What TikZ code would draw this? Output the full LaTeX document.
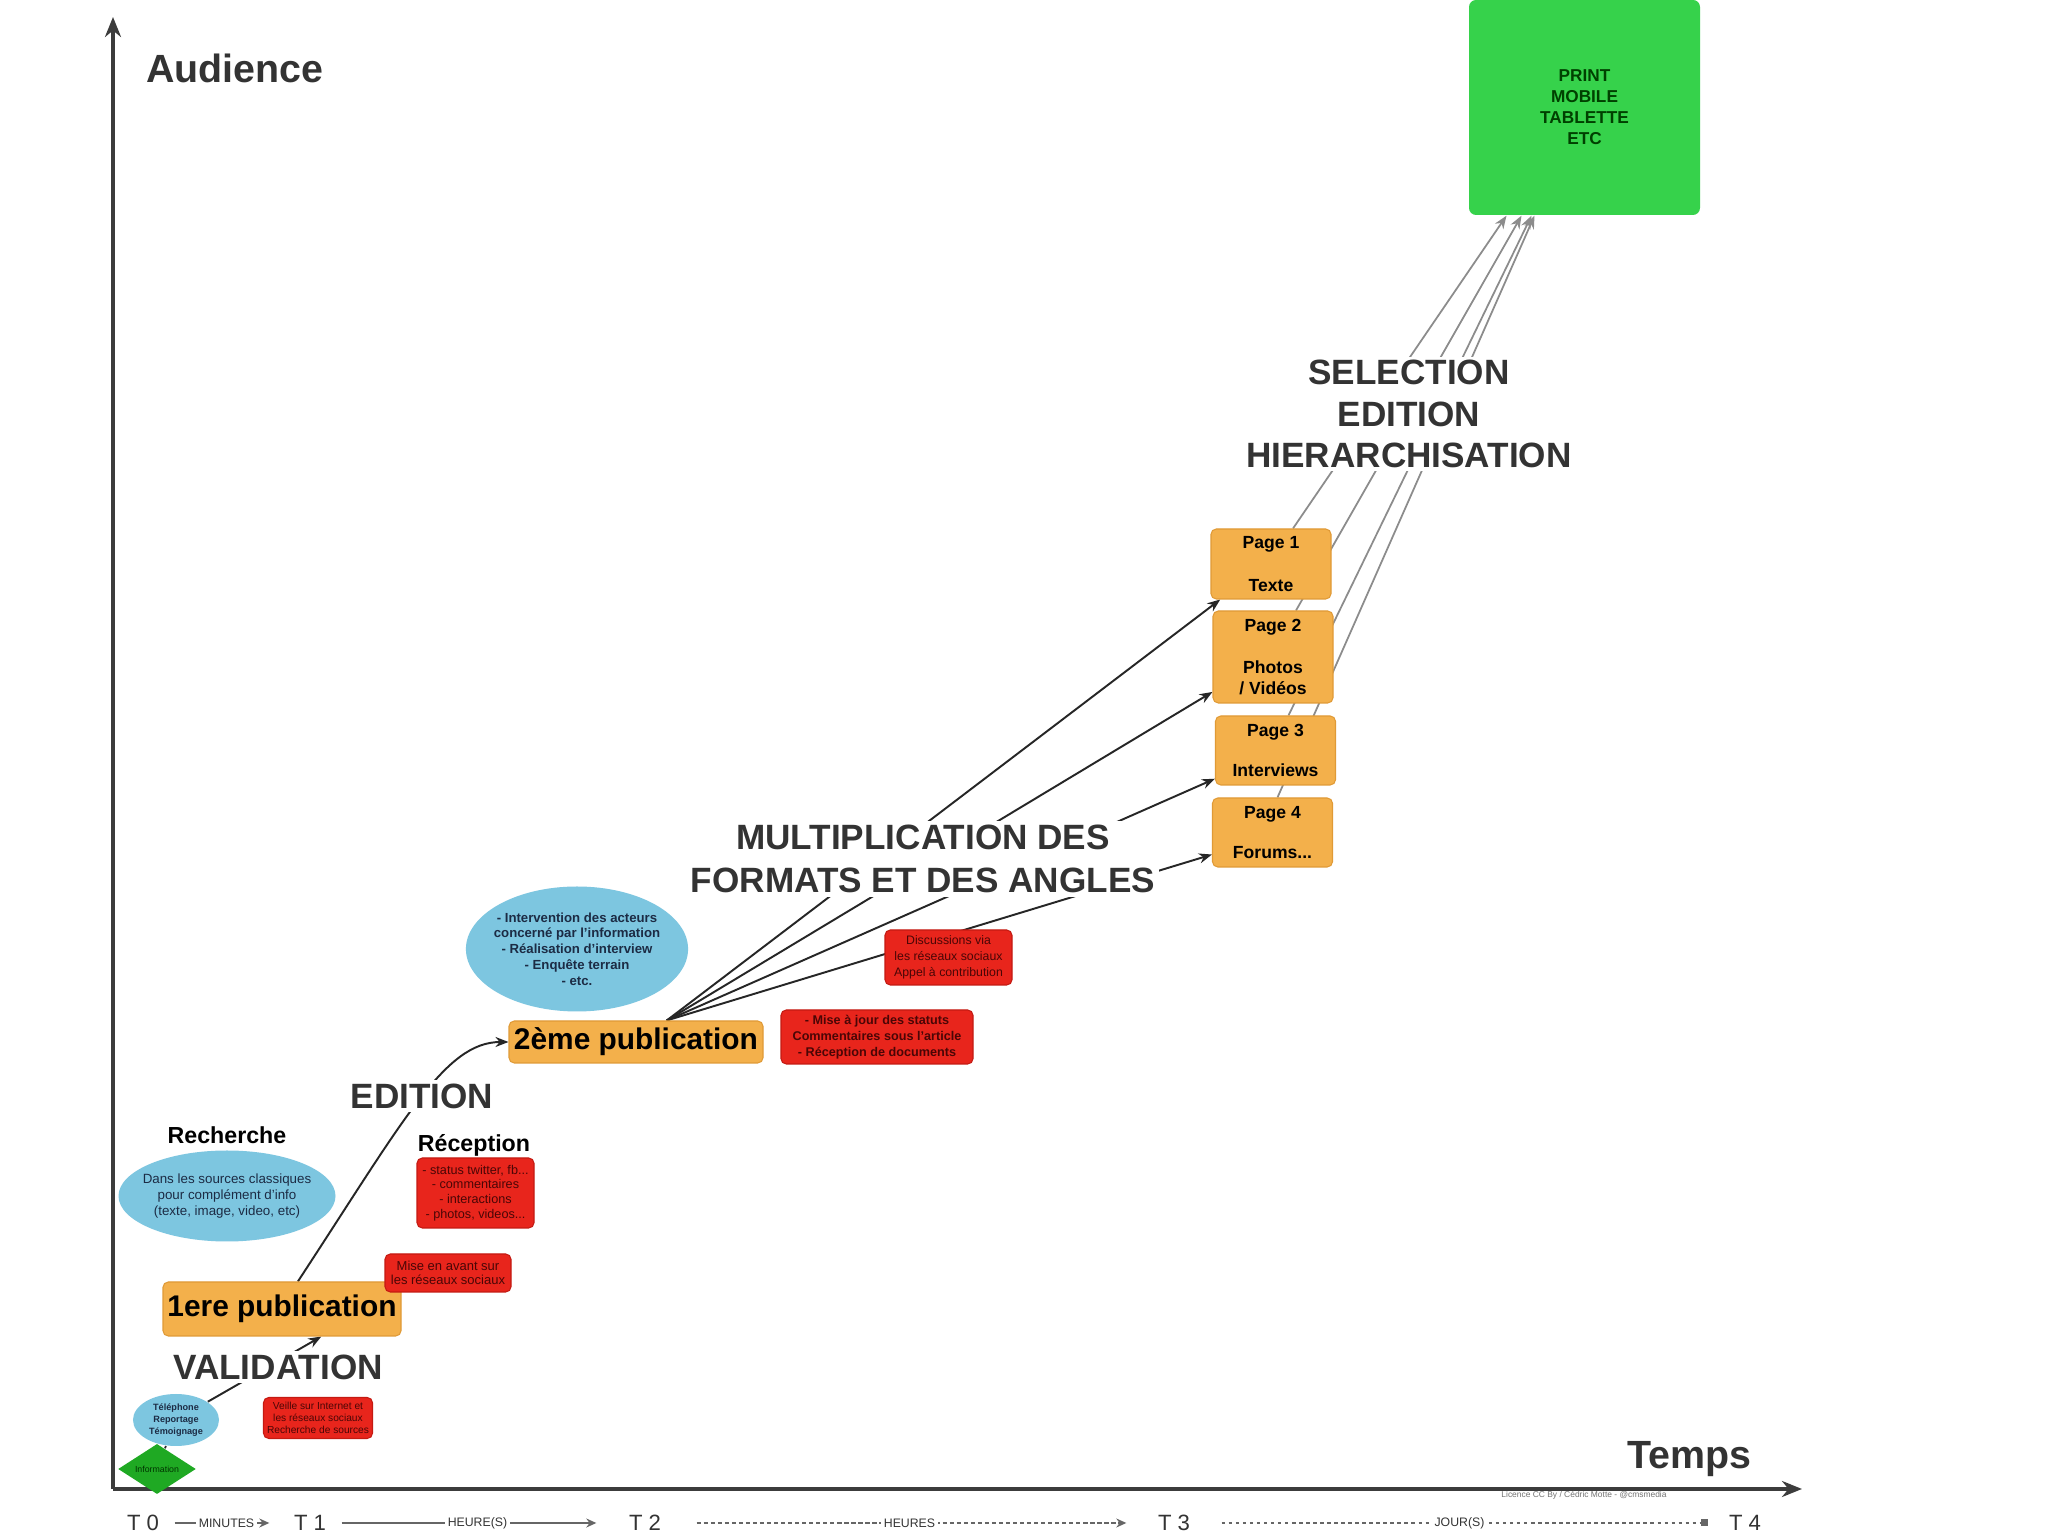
\documentclass[tikz,border=0pt]{standalone}
\usepackage{fontspec}
\setmainfont{Liberation Sans}
\setsansfont{Liberation Sans}
\usetikzlibrary{arrows.meta,positioning,shapes.geometric,calc}
\definecolor{ink}{HTML}{333333}
\definecolor{axisgray}{HTML}{3C3C3C}
\definecolor{linegray}{HTML}{8C8C8C}
\definecolor{pubfill}{HTML}{F3B04B}
\definecolor{pubedge}{HTML}{E09A36}
\definecolor{alertred}{HTML}{E8251C}
\definecolor{alertedge}{HTML}{C41A12}
\definecolor{alerttext}{HTML}{4A0606}
\definecolor{skyblue}{HTML}{7DC6E0}
\definecolor{navy}{HTML}{1C2B44}
\definecolor{mediagreen}{HTML}{36D24B}
\definecolor{infogreen}{HTML}{1FA923}
\pgfdeclarelayer{paper}
\pgfdeclarelayer{wires}
\pgfsetlayers{paper,wires,main}
\tikzset{
  pubcard/.style={fill=pubfill,draw=pubedge,line width=0.3pt,rounded corners=1.5pt,
                  inner sep=0pt,align=center,font=\fontsize{8.5}{10}\selectfont\bfseries},
  pagecard/.style={pubcard,minimum width=1.2cm,font=\fontsize{5}{6}\selectfont\bfseries},
  redcard/.style={fill=alertred,draw=alertedge,line width=0.3pt,rounded corners=1.5pt,
                  inner sep=0pt,align=center,text=alerttext,
                  font=\fontsize{3.5}{4.5}\selectfont},
  bluecloud/.style={ellipse,fill=skyblue,inner sep=0pt,align=center,text=navy,
                    font=\fontsize{3.8}{4.6}\selectfont},
  biglabel/.style={fill=white,inner sep=1pt,align=center,text=ink,
                   font=\fontsize{10}{12.4}\selectfont\bfseries},
  smalllabel/.style={inner sep=1pt,text=black,font=\fontsize{6.6}{8}\selectfont\bfseries},
  timemark/.style={inner sep=0pt,text=ink,font=\fontsize{6.3}{7}\selectfont},
  steplabel/.style={fill=white,inner sep=0.8pt,text=ink,font=\fontsize{3.5}{4}\selectfont},
  inkarr/.style={-{Stealth[length=1.3mm,width=1mm]},line width=0.55pt,draw=black!85},
  grayarr/.style={-{Stealth[length=1.3mm,width=1mm]},line width=0.5pt,draw=linegray},
  axisarr/.style={-{Stealth[length=2mm,width=1.6mm]},line width=1.2pt,draw=axisgray},
  timearr/.style={-{Stealth[length=1mm,width=0.9mm]},line width=0.4pt,draw=ink!75}
}
\begin{document}
\begin{tikzpicture}[x=1cm,y=1cm]
    \useasboundingbox (0,0) rectangle (20.48,15.35);
    \begin{pgfonlayer}{paper}
      \fill[white] (0,0) rectangle (20.48,15.35);
    \end{pgfonlayer}

    % axes
    \coordinate (origin) at (1.13,0.46);
    \coordinate (ytop) at (1.13,15.18);
    \coordinate (xend) at (18.02,0.46);
    \draw[axisarr] (origin) -- (ytop);
    \draw[axisarr] (origin) -- (xend);
    \node[biglabel,font=\fontsize{11.2}{13}\selectfont\bfseries] (audience) at (2.35,14.67) {Audience};
    \node[biglabel,font=\fontsize{11.2}{13}\selectfont\bfseries] (temps) at (16.89,0.76) {Temps};

    \node[diamond,fill=infogreen,minimum width=0.78cm,minimum height=0.37cm,inner sep=0pt,
          text=green!20!black,font=\fontsize{2.5}{3}\selectfont] (info) at (1.57,0.66) {Information};
    \node[bluecloud,minimum width=0.86cm,minimum height=0.52cm,
          font=\fontsize{2.6}{3.4}\selectfont\bfseries] (tel) at (1.76,1.15)
      {Téléphone\\Reportage\\Témoignage};
    \node[redcard,minimum width=1.09cm,minimum height=0.41cm,
          font=\fontsize{2.9}{3.4}\selectfont] (veille) at (3.18,1.17)
      {Veille sur Internet et\\les réseaux sociaux\\Recherche de sources};
    \node[biglabel] (validation) at (2.78,1.68) {VALIDATION};
    \node[pubcard,minimum width=2.38cm,minimum height=0.54cm] (pubA) at (2.82,2.26) {1ere publication};
    \node[redcard,minimum width=1.26cm,minimum height=0.38cm,
          font=\fontsize{3.7}{4}\selectfont] (avant) at (4.48,2.62)
      {Mise en avant sur\\les réseaux sociaux};

    \node[smalllabel] (recherche) at (2.27,4.00) {Recherche};
    \node[bluecloud,minimum width=2.17cm,minimum height=0.91cm,inner xsep=-2.4pt] (sources) at (2.27,3.39)
      {Dans les sources classiques\\pour complément d'info\\(texte, image, video, etc)};
    \node[smalllabel] (reclabel) at (4.74,3.90) {Réception};
    \node[redcard,minimum width=1.17cm,minimum height=0.70cm,
          font=\fontsize{3.6}{4.2}\selectfont] (feedback) at (4.755,3.42)
      {- status twitter, fb...\\- commentaires\\- interactions\\- photos, videos...};
    \node[biglabel] (edition) at (4.22,4.39) {EDITION};

    \node[pubcard,minimum width=2.54cm,minimum height=0.42cm] (pubB) at (6.36,4.93) {2ème publication};
    \node[bluecloud,minimum width=2.22cm,minimum height=1.25cm,inner xsep=-1.3pt,
          font=\fontsize{3.75}{4.5}\selectfont\bfseries] (terrain) at (5.77,5.86)
      {- Intervention des acteurs\\concerné par l'information\\- Réalisation d'interview\\- Enquête terrain\\- etc.};
    \node[redcard,minimum width=1.27cm,minimum height=0.55cm] (discuss) at (9.485,5.775)
      {Discussions via\\les réseaux sociaux\\Appel à contribution};
    \node[redcard,minimum width=1.92cm,minimum height=0.54cm,
          font=\fontsize{3.6}{4.5}\selectfont\bfseries] (updates) at (8.77,4.98)
      {- Mise à jour des statuts\\Commentaires sous l'article\\- Réception de documents};
    \node[biglabel] (multi) at (9.23,6.76) {MULTIPLICATION DES\\FORMATS ET DES ANGLES};

    \node[pagecard,minimum height=0.70cm] (p1) at (12.71,9.71) {Page 1\\[6pt]Texte};
    \node[pagecard,minimum height=0.92cm] (p2) at (12.73,8.78) {Page 2\\[6pt]Photos\\/ Vidéos};
    \node[pagecard,minimum height=0.69cm] (p3) at (12.755,7.845) {Page 3\\[5.6pt]Interviews};
    \node[pagecard,minimum height=0.69cm] (p4) at (12.725,7.025) {Page 4\\[5.6pt]Forums...};
    \node[biglabel,font=\fontsize{10}{11.7}\selectfont\bfseries] (selection) at (14.09,11.21)
      {SELECTION\\EDITION\\HIERARCHISATION};

    \node[fill=mediagreen,rounded corners=2pt,minimum width=2.31cm,minimum height=2.15cm,
          align=center,text=black!75!green,font=\fontsize{4.9}{6}\selectfont\bfseries] (media) at (15.845,14.275)
      {PRINT\\MOBILE\\TABLETTE\\ETC};

    % connectors
    \begin{pgfonlayer}{wires}
      \draw[line width=0.5pt,draw=black!85] (info) -- (tel);
      \draw[inkarr] (tel) -- (pubA.-35);
      \draw[inkarr] (pubA.60) .. controls (4.05,4.17) and (4.45,4.93) .. (pubB.west);
      \foreach \pg/\ang in {p1/215,p2/210,p3/205,p4/200}
        \draw[inkarr] (pubB.35) -- (\pg.\ang);
      \foreach \pg/\dx/\gx in {p1/0.22/-0.78,p2/0.23/-0.63,p3/0.13/-0.53,p4/0.05/-0.50}
        \draw[grayarr] ($(\pg.north)+(\dx,0)$) -- ($(media.south)+(\gx,0)$);
    \end{pgfonlayer}

    % time line
    \node[timemark] (t0) at (1.43,0.12) {T 0};
    \node[timemark] (t1) at (3.10,0.12) {T 1};
    \node[timemark] (t2) at (6.45,0.12) {T 2};
    \node[timemark] (t3) at (11.74,0.12) {T 3};
    \node[timemark] (t4) at (17.45,0.12) {T 4};
    \draw[timearr,shorten <=1.5mm,shorten >=2.4mm] (t0) -- node[steplabel] (minutes) {MINUTES} (t1);
    \draw[timearr,shorten <=1.5mm,shorten >=3.2mm] (t1) -- node[steplabel] (hours) {HEURE(S)} (t2);
    \draw[timearr,dash pattern=on 1.2pt off 0.8pt,shorten <=3.5mm,shorten >=3.1mm] (t2) -- node[steplabel] (morehours) {HEURES} (t3);
    \draw[timearr,dash pattern=on 1pt off 1pt,-{Square[length=0.7mm,width=0.7mm]},shorten <=3.1mm,shorten >=2mm] (t3) -- node[steplabel] (days) {JOUR(S)} (t4);
    \node[text=black!55,inner sep=0pt,font=\fontsize{2.4}{3}\selectfont] (licence) at (15.84,0.40)
      {Licence CC By / Cédric Motte - @cmsmedia};
\end{tikzpicture}
\end{document}
